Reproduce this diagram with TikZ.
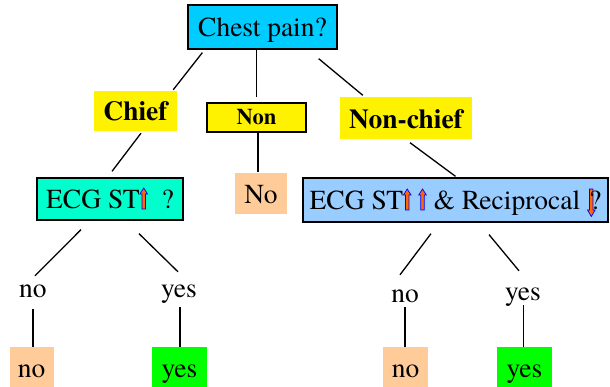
\documentclass[tikz,border=0pt]{standalone}
\usepackage{fontspec}
\setmainfont{texgyretermes}[Extension=.otf, UprightFont=*-regular, BoldFont=*-bold, ItalicFont=*-italic, BoldItalicFont=*-bolditalic]
\usetikzlibrary{calc}
\definecolor{chestc}{RGB}{0,204,255}
\definecolor{ecgone}{RGB}{0,255,204}
\definecolor{ecgtwo}{RGB}{153,204,255}
\definecolor{peach}{RGB}{255,204,153}
\definecolor{leafgreen}{RGB}{0,255,0}
\definecolor{arwfill}{RGB}{255,102,0}
\newcommand{\uparw}{\tikz[baseline=0pt,x=1pt,y=1pt]{\filldraw[draw=blue,fill=arwfill,line width=0.7pt,line join=miter] (-1.7,0) -- (-1.7,15) -- (-3.8,15) -- (0,21) -- (3.8,15) -- (1.7,15) -- (1.7,0) -- cycle;}}
\newcommand{\dnarw}{\tikz[baseline=0pt,x=1pt,y=1pt]{\filldraw[draw=blue,fill=arwfill,line width=0.7pt,line join=miter] (-1.7,21) -- (-1.7,0) -- (-3.8,0) -- (0,-6.5) -- (3.8,0) -- (1.7,0) -- (1.7,21) -- cycle;}}
\begin{document}
\begin{tikzpicture}[x=1pt,y=-1pt,
  every node/.style={font=\fontsize{27.5pt}{30pt}\selectfont, inner sep=0pt, text height=21pt, text depth=1pt},
  box/.style={draw=black, line width=1.3pt, align=center},
  yel/.style={fill=yellow, font=\fontsize{27.5pt}{30pt}\selectfont\bfseries},
  lbl/.style={anchor=base},
  conn/.style={line width=1.3pt}]
\useasboundingbox (0,0) rectangle (610,387);
% nodes
\node[box, fill=chestc, minimum width=149pt, minimum height=44pt] (chest) at (262.5,27) {Chest pain?};
\node[yel, minimum width=83pt, minimum height=40pt] (chief) at (135.5,111) {Chief};
\node[box, fill=yellow, font=\fontsize{22.5pt}{25pt}\selectfont\bfseries, text height=15pt, text depth=1pt, minimum width=99pt, minimum height=29pt] (non) at (256.5,117.5) {Non};
\node[yel, minimum width=132pt, minimum height=42pt] (nonchief) at (406,118.5) {Non-chief};
\node[box, fill=ecgone, minimum width=146pt, minimum height=42pt] (ecg1) at (110,199) {ECG ST\uparw\ \ ?};
\node[fill=peach, minimum width=52pt, minimum height=41pt] (nobox) at (261,193.5) {No};
\node[box, fill=ecgtwo, minimum width=305pt, minimum height=44pt] (ecg2) at (455.5,200) {ECG ST\uparw\hspace{7pt}\uparw\ \& Reciprocal \rlap{\dnarw}\hspace{2pt}?};
\node[lbl] (no1) at (33,298) {no};
\node[lbl] (yes1) at (179,298) {yes};
\node[lbl] (no2) at (405,302) {no};
\node[lbl] (yes2) at (523,300) {yes};
\node[fill=peach, minimum width=44pt, minimum height=40pt] (leafno1) at (31.5,367) {no};
\node[fill=leafgreen, minimum width=55pt, minimum height=40pt] (leafyes1) at (179.5,367) {yes};
\node[fill=peach, minimum width=45pt, minimum height=40pt] (leafno2) at (405.5,367) {no};
\node[fill=leafgreen, minimum width=55pt, minimum height=40pt] (leafyes2) at (524.5,367) {yes};
% connectors
\draw[conn] ($(chest.south west)+(15,3)$) -- ($(chief.north east)+(-4,-1)$);
\draw[conn] (non.north |- chest.south) -- ($(non.north)+(0,-5)$);
\draw[conn] ($(chest.south east)+(-19,9)$) -- ($(nonchief.north west)+(23,-2)$);
\draw[conn] ($(chief.south)+(5.5,2)$) -- ($(ecg1.north)+(2,-6)$);
\draw[conn] ($(non.south)+(1.5,0)$) -- ($(nobox.north)+(-3,-1)$);
\draw[conn] ($(nonchief.south)+(4,3)$) -- ($(ecg2.north)+(0,-1)$);
\draw[conn] ($(ecg1.south)+(-29,9)$) -- ($(no1.north)+(2,-1)$);
\draw[conn] ($(ecg1.south)+(29,13)$) -- ($(yes1.north)+(-1,-5)$);
\draw[conn] ($(ecg2.south)+(-24.5,11)$) -- ($(no2.north)+(-5,-6)$);
\draw[conn] ($(ecg2.south)+(33.5,12)$) -- ($(yes2.north)+(-4,-8)$);
\draw[conn] ($(no1.south)+(0,10)$) -- (no1.south |- leafno1.north);
\draw[conn] ($(yes1.south)+(1,8)$) -- ($(yes1.south |- leafyes1.north)+(1,0)$);
\draw[conn] ($(no2.south)+(0,4)$) -- (no2.south |- leafno2.north);
\draw[conn] ($(yes2.south)+(0.5,4)$) -- ($(yes2.south |- leafyes2.north)+(0.5,0)$);
\end{tikzpicture}
\end{document}
